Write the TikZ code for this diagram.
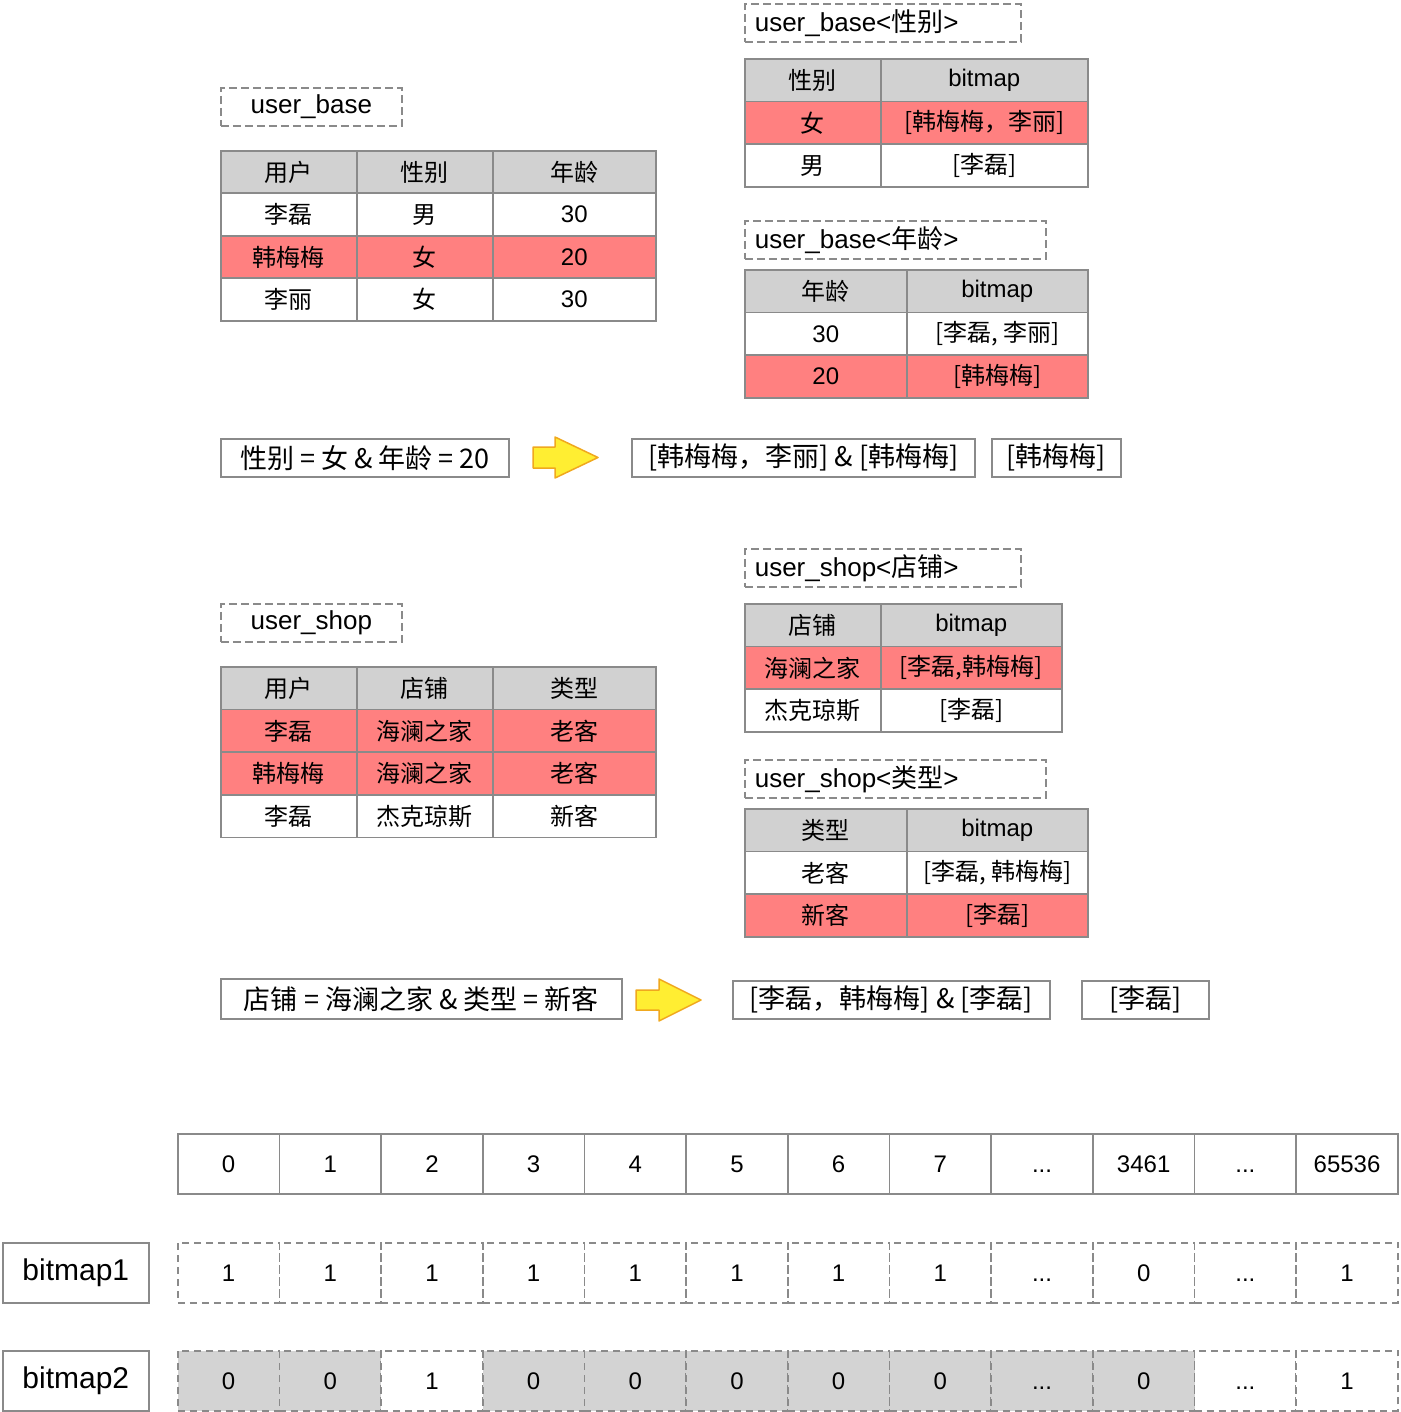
\documentclass[tikz,border=0pt]{standalone}
\usepackage{fontspec}
\setmainfont{Liberation Sans}
\newfontfamily\cjk{Noto Sans CJK SC}
\usepackage{xcolor}

\definecolor{hdrgray}{RGB}{209,209,209}
\definecolor{hitred}{RGB}{255,128,128}
\definecolor{linegray}{RGB}{138,138,138}
\definecolor{bitgray}{RGB}{211,211,211}
\definecolor{arrowfill}{RGB}{255,238,50}
\definecolor{arroworange}{RGB}{240,168,30}

\newcommand\skipdots{...}

\tikzset{
  cell/.style={draw=linegray, line width=1.6pt, anchor=north west, inner sep=0pt,
    font=\cjk\fontsize{24}{24}\selectfont},
  tabtitle/.style={draw=linegray, line width=1.6pt, dash pattern=on 8pt off 4pt,
    anchor=north west, inner sep=0pt, minimum height=38,
    font=\fontsize{26}{26}\selectfont},
  tabtitleleft/.style={tabtitle, inner xsep=10pt, align=left},
  query/.style={draw=linegray, line width=1.6pt, anchor=north west, inner sep=0pt,
    minimum height=38, font=\cjk\fontsize{27}{27}\selectfont},
  bitcell/.style={draw=linegray, line width=1.6pt, anchor=north west, inner sep=0pt,
    minimum width=101.67, minimum height=60, text height=18pt, text depth=0pt,
    font=\fontsize{24}{24}\selectfont},
  bitdash/.style={bitcell, dash pattern=on 7pt off 5pt},
  bitlabel/.style={draw=linegray, line width=1.6pt, anchor=north west, inner sep=0pt,
    minimum width=146, minimum height=60, font=\fontsize{30}{30}\selectfont},
  bigarrow/.style={fill=arrowfill, draw=arroworange, line width=1.5pt, line join=round},
}

\begin{document}
\begin{tikzpicture}[x=1pt, y=-1pt]
    \useasboundingbox (0,0) rectangle (1400,1412);

    % -------------------------
    % user_base table
    % -------------------------
    \node[tabtitle, minimum width=181] (ubtitle) at (220,87) {user\_base};
    \foreach \r/\f/\a/\b/\c in {0/hdrgray/用户/性别/年龄, 1/white/李磊/男/\rmfamily 30,
        2/hitred/韩梅梅/女/\rmfamily 20, 3/white/李丽/女/\rmfamily 30} {
      \node[cell, fill=\f, minimum width=136, minimum height=42.5] (ub-\r-1) at (220,150+42.5*\r) {\a};
      \node[cell, fill=\f, minimum width=136, minimum height=42.5] (ub-\r-2) at (356,150+42.5*\r) {\b};
      \node[cell, fill=\f, minimum width=163, minimum height=42.5] (ub-\r-3) at (492,150+42.5*\r) {\c};
    }

    % user_base<性别>
    \node[tabtitleleft, text width=256] (sextitle) at (744,3) {user\_base<{\cjk 性别}>};
    \foreach \r/\f/\a/\b in {0/hdrgray/性别/\rmfamily bitmap, 1/hitred/女/[韩梅梅，李丽],
        2/white/男/[李磊]} {
      \node[cell, fill=\f, minimum width=136, minimum height=42.7] (sex-\r-1) at (744,58+42.7*\r) {\a};
      \node[cell, fill=\f, minimum width=207, minimum height=42.7] (sex-\r-2) at (880,58+42.7*\r) {\b};
    }

    % user_base<年龄>
    \node[tabtitleleft, text width=281] (agetitle) at (744,220) {user\_base<{\cjk 年龄}>};
    \foreach \r/\f/\a/\b in {0/hdrgray/年龄/\rmfamily bitmap, 1/white/\rmfamily 30/{[李磊, 李丽]},
        2/hitred/\rmfamily 20/[韩梅梅]} {
      \node[cell, fill=\f, minimum width=162, minimum height=42.7] (age-\r-1) at (744,269+42.7*\r) {\a};
      \node[cell, fill=\f, minimum width=181, minimum height=42.7] (age-\r-2) at (906,269+42.7*\r) {\b};
    }

    % query 1
    \node[query, minimum width=288] (q1) at (220,438) {性别 = 女 \& 年龄 = 20};
    \draw[bigarrow] (533,447) -- (555,447) -- (555,437) -- (598,457.5)
        -- (555,478) -- (555,468) -- (533,468) -- cycle;
    \node[query, minimum width=343] (and1) at (631,438) {[韩梅梅，李丽] \& [韩梅梅]};
    \node[query, minimum width=129] (res1) at (991,438) {[韩梅梅]};

    % -------------------------
    % user_shop table
    % -------------------------
    \node[tabtitle, minimum width=181] (ustitle) at (220,603) {user\_shop};
    \foreach \r/\f/\a/\b/\c in {0/hdrgray/用户/店铺/类型, 1/hitred/李磊/海澜之家/老客,
        2/hitred/韩梅梅/海澜之家/老客, 3/white/李磊/杰克琼斯/新客} {
      \node[cell, fill=\f, minimum width=136, minimum height=42.7] (us-\r-1) at (220,666+42.7*\r) {\a};
      \node[cell, fill=\f, minimum width=136, minimum height=42.7] (us-\r-2) at (356,666+42.7*\r) {\b};
      \node[cell, fill=\f, minimum width=163, minimum height=42.7] (us-\r-3) at (492,666+42.7*\r) {\c};
    }

    % user_shop<店铺>
    \node[tabtitleleft, text width=256] (shoptitle) at (744,548) {user\_shop<{\cjk 店铺}>};
    \foreach \r/\f/\a/\b in {0/hdrgray/店铺/\rmfamily bitmap, 1/hitred/海澜之家/{[李磊,韩梅梅]},
        2/white/杰克琼斯/[李磊]} {
      \node[cell, fill=\f, minimum width=136, minimum height=42.7] (shop-\r-1) at (744,603+42.7*\r) {\a};
      \node[cell, fill=\f, minimum width=181, minimum height=42.7] (shop-\r-2) at (880,603+42.7*\r) {\b};
    }

    % user_shop<类型>
    \node[tabtitleleft, text width=281] (typetitle) at (744,759) {user\_shop<{\cjk 类型}>};
    \foreach \r/\f/\a/\b in {0/hdrgray/类型/\rmfamily bitmap, 1/white/老客/{[李磊, 韩梅梅]},
        2/hitred/新客/[李磊]} {
      \node[cell, fill=\f, minimum width=162, minimum height=42.7] (type-\r-1) at (744,808+42.7*\r) {\a};
      \node[cell, fill=\f, minimum width=181, minimum height=42.7] (type-\r-2) at (906,808+42.7*\r) {\b};
    }

    % query 2
    \node[query, minimum width=401, minimum height=40] (q2) at (220,978) {店铺 = 海澜之家 \& 类型 = 新客};
    \draw[bigarrow] (636,990) -- (659,990) -- (659,979) -- (701,1000)
        -- (659,1021) -- (659,1010) -- (636,1010) -- cycle;
    \node[query, minimum width=317] (and2) at (732,980) {[李磊，韩梅梅] \& [李磊]};
    \node[query, minimum width=127] (res2) at (1081,980) {[李磊]};

    % -------------------------
    % bitmap rows
    % -------------------------
    \foreach \v [count=\i from 0] in {0,1,2,3,4,5,6,7,\skipdots,3461,\skipdots,65536}
      \node[bitcell] (idx-\i) at (177+101.67*\i,1133) {\v};

    \node[bitlabel] (bm1) at (2,1242) {bitmap1};
    \foreach \v [count=\i from 0] in {1,1,1,1,1,1,1,1,\skipdots,0,\skipdots,1}
      \node[bitdash] (bmone-\i) at (177+101.67*\i,1242) {\v};

    \node[bitlabel] (bm2) at (2,1350) {bitmap2};
    \foreach \v/\f [count=\i from 0] in {0/bitgray,0/bitgray,1/white,0/bitgray,0/bitgray,
        0/bitgray,0/bitgray,0/bitgray,\skipdots/bitgray,0/bitgray,\skipdots/white,1/white}
      \node[bitdash, fill=\f] (bmtwo-\i) at (177+101.67*\i,1350) {\v};

\end{tikzpicture}
\end{document}
